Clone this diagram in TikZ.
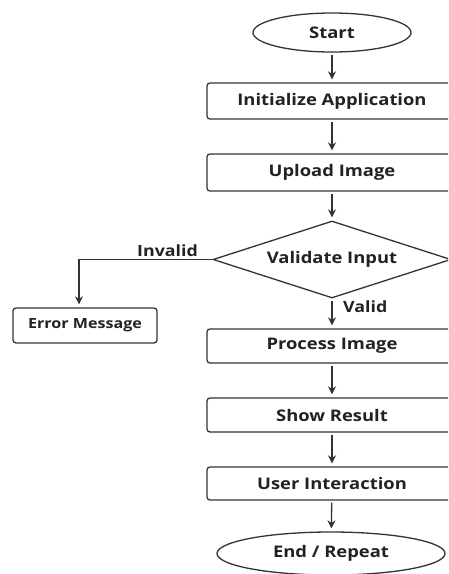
\documentclass[tikz,border=0pt]{standalone}
\usepackage{fontspec}
\setmainfont{Open Sans}[FakeStretch=1.15]
\usetikzlibrary{shapes.geometric,arrows.meta}
\definecolor{linegray}{HTML}{333333}
\definecolor{txt}{HTML}{222222}
\tikzset{
  base/.style={draw=linegray, line width=1.3pt, text=txt, font=\bfseries\fontsize{16}{18}\selectfont, inner sep=0pt},
  procbox/.style={base, rectangle, rounded corners=3pt, minimum width=250pt},
  term/.style={base, ellipse},
  decide/.style={base, diamond, aspect=3, minimum width=238pt, minimum height=77pt},
  arr/.style={draw=linegray, line width=1.3pt, -{Stealth[length=8pt,width=8pt]}, shorten >=3pt, shorten <=2pt},
  lbl/.style={text=txt, font=\bfseries\fontsize{15.5}{17}\selectfont, inner sep=0pt}
}
\begin{document}
\begin{tikzpicture}[x=1pt,y=-1pt]
\useasboundingbox (0,0) rectangle (448,574);
\clip (0,0) rectangle (448,574);
\fill[white] (0,0) rectangle (448,574);
\node[term, minimum width=158pt, minimum height=39pt] (start) at (332,32.5) {Start};
\node[procbox, minimum height=36pt] (init) at (332,101) {Initialize Application};
\node[procbox, minimum height=37pt] (upload) at (332,172.5) {Upload Image};
\node[decide] (valid) at (332,259.5) {Validate Input};
\node[base, rectangle, rounded corners=3pt, minimum width=144pt, minimum height=35pt, font=\bfseries\fontsize{14}{16}\selectfont] (err) at (85,325.5) {Error Message};
\node[procbox, minimum height=34pt] (proc) at (332,346) {Process Image};
\node[procbox, minimum height=34pt] (show) at (332,415) {Show Result};
\node[procbox, minimum height=33pt] (user) at (332,483.5) {User Interaction};
\node[term, minimum width=228pt, minimum height=43pt] (end) at (331,553.5) {End / Repeat};
\coordinate (elbow) at (79,259.5);
\draw[arr] (start) -- (init);
\draw[arr] (init) -- (upload);
\draw[arr] (upload) -- (valid);
\draw[arr, shorten <=0pt] (valid.west) -- (elbow) -- (elbow |- err.north);
\draw[arr] (valid) -- (proc);
\draw[arr] (proc) -- (show);
\draw[arr] (show) -- (user);
\draw[arr] (user) -- (end);
\node[lbl, anchor=base] (invl) at (167.5,256) {Invalid};
\node[lbl, anchor=west] (vall) at (343,307) {Valid};
\end{tikzpicture}
\end{document}
